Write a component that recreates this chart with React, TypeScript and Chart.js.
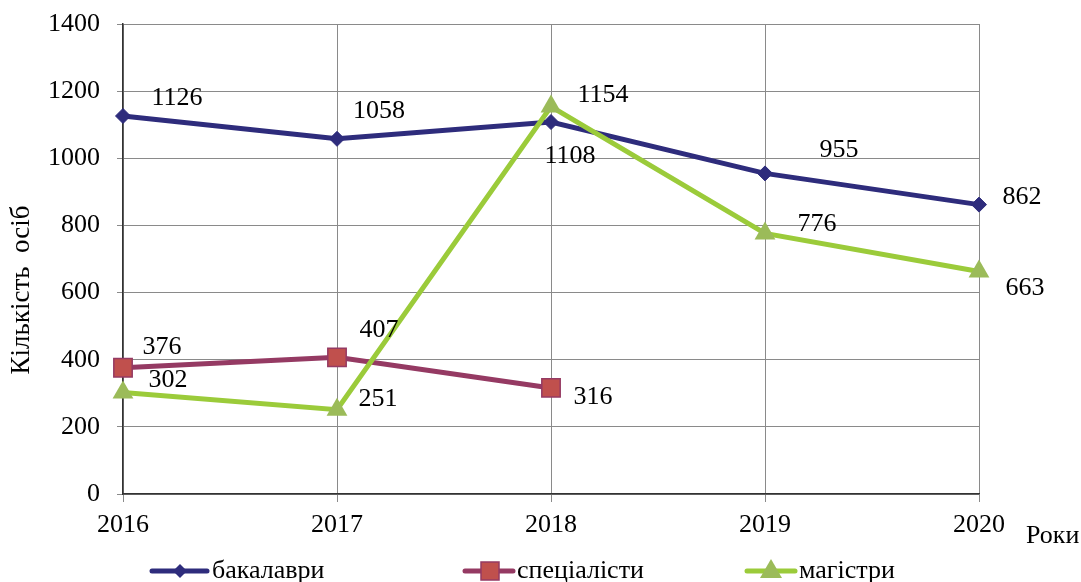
import React, { useEffect, useRef } from "react";
import { Chart, registerables } from "chart.js";

Chart.register(...registerables);

const years = ["2016", "2017", "2018", "2019", "2020"];
const bachelors = [1126, 1058, 1108, 955, 862];
const specialists = [376, 407, 316, null, null];
const masters = [302, 251, 1154, 776, 663];
const seriesNames = ["бакалаври", "спеціалісти", "магістри"];
const yTitle = "Кількість  осіб";
const xTitle = "Роки";

const FONT = "'Liberation Serif', 'Times New Roman', serif";

const NAVY = "#2E2C7C";
const MAROON = "#953A63";
const MAROON_FILL = "#C0504D";
const GREEN = "#9BCB3A";
const GREEN_FILL = "#9BBB59";

// label offsets relative to each point (styling)
const labelOffsets = [
  [[54, -18], [42, -28], [19, 34], [74, -23], [43, -7]],
  [[39, -21], [42, -27], [42, 9], null, null],
  [[45, -12], [41, -11], [52, -11], [52, -9], [46, 17]],
];

const decorPlugin = {
  id: "decor",
  afterDatasetsDraw(chart: any) {
    const ctx = chart.ctx;
    ctx.save();
    ctx.font = `26px ${FONT}`;
    ctx.fillStyle = "#000";
    ctx.textAlign = "center";
    ctx.textBaseline = "middle";
    chart.data.datasets.forEach((ds: any, di: number) => {
      const meta = chart.getDatasetMeta(di);
      meta.data.forEach((el: any, i: number) => {
        const v = ds.data[i];
        const off = labelOffsets[di][i];
        if (v == null || !off) return;
        ctx.fillText(String(v), el.x + off[0], el.y + off[1]);
      });
    });
    ctx.restore();
  },
  afterDraw(chart: any) {
    const ctx = chart.ctx;
    ctx.save();
    // y title
    ctx.fillStyle = "#000";
    ctx.font = `27px ${FONT}`;
    ctx.textAlign = "center";
    ctx.textBaseline = "middle";
    ctx.translate(22, 290);
    ctx.rotate(-Math.PI / 2);
    ctx.fillText(yTitle, 0, 0);
    ctx.restore();

    ctx.save();
    ctx.fillStyle = "#000";
    ctx.font = `26px ${FONT}`;
    ctx.textAlign = "left";
    ctx.textBaseline = "middle";
    ctx.fillText(xTitle, 1026, 536);

    // legend
    const items = [
      { x1: 152, x2: 207, mx: 180, color: NAVY, fill: NAVY, shape: "diamond", tx: 212 },
      { x1: 465, x2: 513, mx: 490, color: MAROON, fill: MAROON_FILL, shape: "square", tx: 517 },
      { x1: 747, x2: 795, mx: 771, color: GREEN, fill: GREEN_FILL, shape: "triangle", tx: 799 },
    ];
    const ly = 571;
    items.forEach((it, i) => {
      ctx.strokeStyle = it.color;
      ctx.lineWidth = 5;
      ctx.lineCap = "round";
      ctx.beginPath();
      ctx.moveTo(it.x1, ly);
      ctx.lineTo(it.x2, ly);
      ctx.stroke();
      ctx.fillStyle = it.fill;
      ctx.beginPath();
      if (it.shape === "diamond") {
        ctx.moveTo(it.mx, ly - 7);
        ctx.lineTo(it.mx + 7, ly);
        ctx.lineTo(it.mx, ly + 7);
        ctx.lineTo(it.mx - 7, ly);
        ctx.closePath();
        ctx.fill();
      } else if (it.shape === "square") {
        ctx.rect(it.mx - 9, ly - 9, 18, 18);
        ctx.fill();
        ctx.strokeStyle = MAROON;
        ctx.lineWidth = 1.5;
        ctx.stroke();
      } else {
        ctx.moveTo(it.mx, ly - 12);
        ctx.lineTo(it.mx + 11, ly + 7);
        ctx.lineTo(it.mx - 11, ly + 7);
        ctx.closePath();
        ctx.fill();
      }
      ctx.fillStyle = "#000";
      ctx.font = `26px ${FONT}`;
      ctx.fillText(seriesNames[i], it.tx, ly);
    });
    ctx.restore();
  },
};

export default function App() {
  const ref = useRef<HTMLCanvasElement | null>(null);
  useEffect(() => {
    if (!ref.current) return;
    const chart = new Chart(ref.current, {
      type: "line",
      data: {
        labels: years,
        datasets: [
          {
            label: seriesNames[0],
            data: bachelors,
            borderColor: NAVY,
            backgroundColor: NAVY,
            borderWidth: 5,
            pointStyle: "rectRot",
            pointRadius: 7.5,
            pointBorderWidth: 1,
            pointBorderColor: NAVY,
            pointBackgroundColor: NAVY,
            tension: 0,
            order: 3,
          },
          {
            label: seriesNames[1],
            data: specialists,
            borderColor: MAROON,
            backgroundColor: MAROON_FILL,
            borderWidth: 5,
            pointStyle: "rect",
            pointRadius: 13,
            pointBorderWidth: 1.5,
            pointBorderColor: MAROON,
            pointBackgroundColor: MAROON_FILL,
            tension: 0,
            spanGaps: false,
            order: 2,
          },
          {
            label: seriesNames[2],
            data: masters,
            borderColor: GREEN,
            backgroundColor: GREEN_FILL,
            borderWidth: 5,
            pointStyle: "triangle",
            pointRadius: 12,
            pointBorderWidth: 0,
            pointBorderColor: GREEN_FILL,
            pointBackgroundColor: GREEN_FILL,
            tension: 0,
            order: 1,
          },
        ],
      },
      options: {
        animation: false,
        responsive: false,
        layout: { padding: { left: 0, top: 24, right: 102, bottom: 0 } },
        plugins: {
          legend: { display: false },
          tooltip: { enabled: false },
          title: { display: false },
        },
        scales: {
          x: {
            type: "category",
            offset: false,
            grid: {
              offset: false,
              color: "#8a8a8a",
              lineWidth: 1,
              drawTicks: true,
              tickLength: 8,
              tickColor: "#8a8a8a",
            },
            border: { display: true, color: "#333", width: 1.5 },
            ticks: {
              color: "#000",
              font: { family: FONT, size: 26 },
              padding: 8,
              maxRotation: 0,
              autoSkip: false,
            },
            afterFit: (s: any) => {
              s.height = 88;
              s.paddingLeft = 0;
              s.paddingRight = 0;
            },
          },
          y: {
            min: 0,
            max: 1400,
            grid: {
              color: "#8a8a8a",
              lineWidth: 1,
              drawTicks: true,
              tickLength: 6,
              tickColor: "#8a8a8a",
            },
            border: { display: true, color: "#333", width: 1.5 },
            ticks: {
              stepSize: 200,
              color: "#000",
              font: { family: FONT, size: 26 },
              padding: 17,
              callback: (v: any) => String(v),
            },
            afterFit: (s: any) => {
              s.width = 123;
              s.paddingTop = 0;
              s.paddingBottom = 0;
            },
          },
        },
      },
      plugins: [decorPlugin],
    } as any);
    return () => chart.destroy();
  }, []);
  return (
    <div style={{ position: "absolute", left: 0, top: 0, width: 1081, height: 582, background: "#fff" }}>
      <canvas ref={ref} width={1081} height={582} />
    </div>
  );
}
